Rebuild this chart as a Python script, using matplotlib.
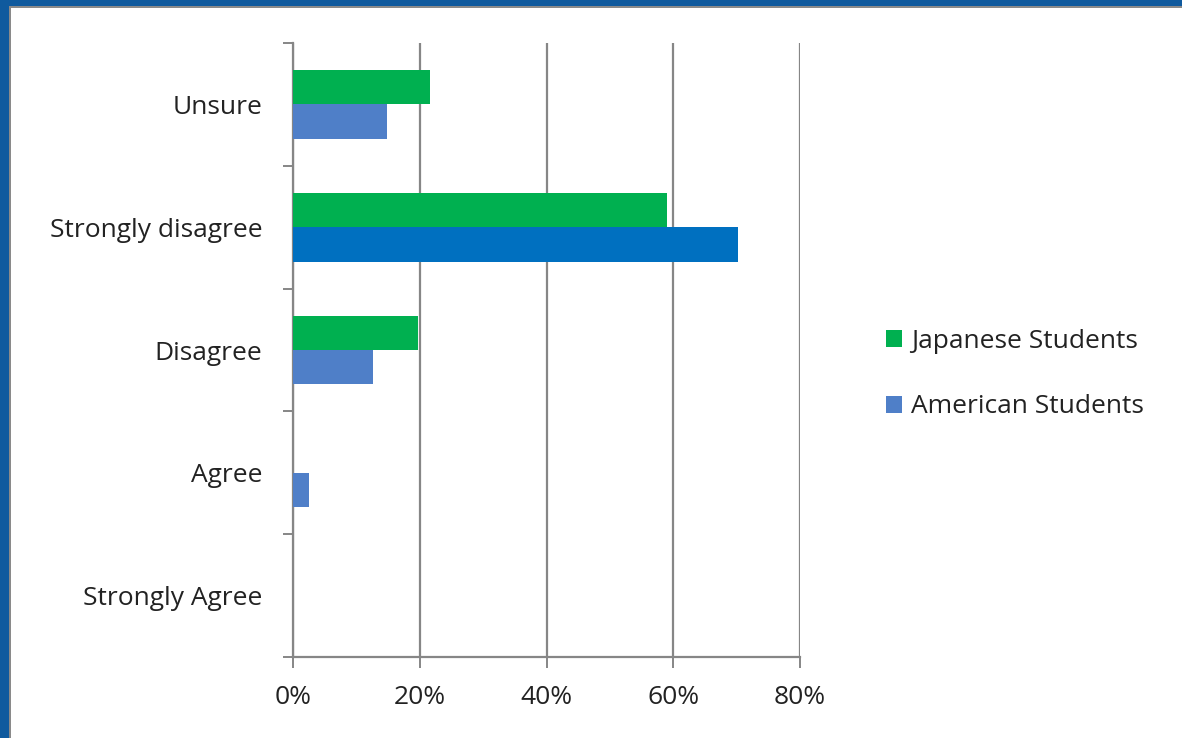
import matplotlib
matplotlib.use("Agg")
import matplotlib.pyplot as plt
from matplotlib.patches import Rectangle, Patch
import numpy as np

# Survey responses (share of students)
categories = ["Strongly Agree", "Agree", "Disagree", "Strongly disagree", "Unsure"]
japanese = [0.0, 0.0, 19.7, 59.0, 21.6]
american = [0.0, 2.5, 12.6, 70.2, 14.8]
x_ticks = [0, 20, 40, 60, 80]
x_tick_labels = ["0%", "20%", "40%", "60%", "80%"]
series_names = ["Japanese Students", "American Students"]

green = "#00B050"
blue = "#4F7FC8"
blue_highlight = "#0070C0"
grid_gray = "#868686"
text_color = "#222222"

plt.rcParams["font.family"] = ["Open Sans", "DejaVu Sans"]

W, H = 1182, 738
fig = plt.figure(figsize=(W / 100, H / 100), dpi=100)
fig.patch.set_facecolor("#0F5A9E")

# white slide panel inside the blue frame
fig.patches.append(Rectangle((9 / W, 0), 1 - 9 / W, 1 - 6 / H, transform=fig.transFigure,
                             facecolor="#8A8A8A", edgecolor="none", zorder=-20))
fig.patches.append(Rectangle((11 / W, 0), 1 - 11 / W, 1 - 8 / H, transform=fig.transFigure,
                             facecolor="white", edgecolor="none", zorder=-10))

left, right = 293 / W, 800 / W
bottom, top = 1 - 657 / H, 1 - 43 / H
ax = fig.add_axes([left, bottom, right - left, top - bottom])
ax.set_facecolor("none")

y = np.arange(len(categories))
bar_h = 0.28
ax.barh(y + bar_h / 2, japanese, height=bar_h, color=green, zorder=3)
am_colors = [blue_highlight if c == "Strongly disagree" else blue for c in categories]
ax.barh(y - bar_h / 2, american, height=bar_h, color=am_colors, zorder=3)

ax.set_xlim(0, 80)
ax.set_ylim(-0.5, len(categories) - 0.5)
ax.set_xticks(x_ticks)
ax.set_xticklabels(x_tick_labels)
ax.xaxis.grid(True, color=grid_gray, linewidth=1.6, zorder=1)

# category labels centred, tick marks on category boundaries
ax.set_yticks(y)
ax.set_yticklabels(categories)
ax.set_yticks(np.arange(len(categories) + 1) - 0.5, minor=True)
ax.tick_params(axis="y", which="major", length=0, pad=22, labelsize=19, labelcolor=text_color)
ax.tick_params(axis="y", which="minor", length=7, width=1.4, color=grid_gray, direction="out")
ax.tick_params(axis="x", length=8, width=1.4, color=grid_gray, direction="out",
               pad=12, labelsize=19, labelcolor=text_color)

for side in ["top", "right"]:
    ax.spines[side].set_visible(False)
for side in ["left", "bottom"]:
    ax.spines[side].set_color(grid_gray)
    ax.spines[side].set_linewidth(1.6)

handles = [Patch(facecolor=green), Patch(facecolor=blue)]
fig.legend(handles, series_names, loc="center left",
           bbox_to_anchor=(862 / W, 1 - 374 / H), frameon=False,
           fontsize=19, handlelength=0.6, handleheight=0.6, handletextpad=0.35,
           labelspacing=1.55, labelcolor=text_color)

fig.savefig("out.png", dpi=100, facecolor=fig.get_facecolor())
